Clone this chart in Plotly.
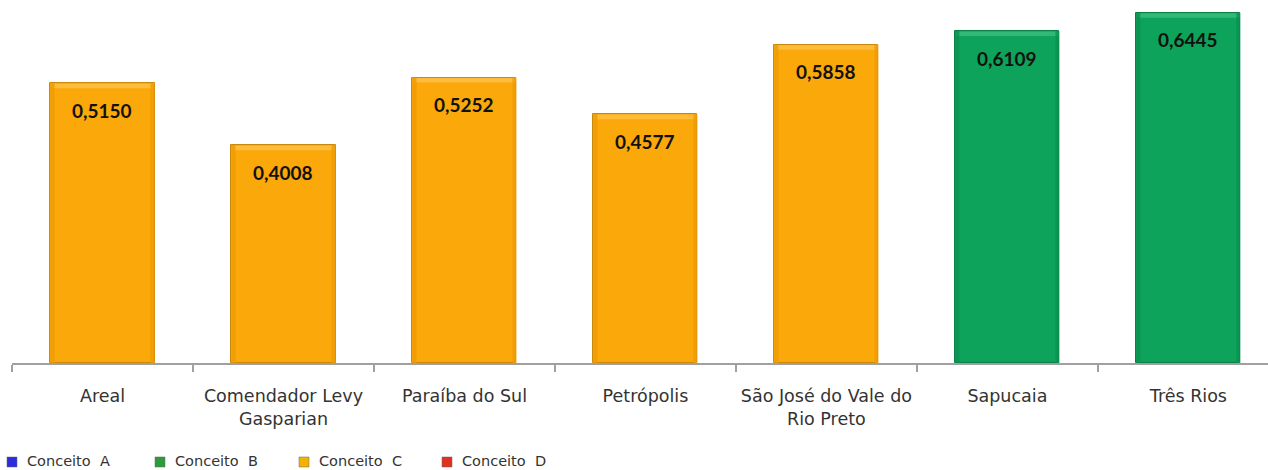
import plotly.graph_objects as go

# Municipal index by municipality, coloured by concept band
municipios = ["Areal", "Comendador Levy<br>Gasparian", "Paraíba do Sul", "Petrópolis",
              "São José do Vale do<br>Rio Preto", "Sapucaia", "Três Rios"]
indices = [0.5150, 0.4008, 0.5252, 0.4577, 0.5858, 0.6109, 0.6445]
conceitos = ["C", "C", "C", "C", "C", "B", "B"]

legenda = ["Conceito  A", "Conceito  B", "Conceito  C", "Conceito  D"]
cores_legenda = ["#2B2BE0", "#2E9A3A", "#F2B400", "#E0301E"]

cor_barra = {"B": "#0DA35B", "C": "#FBA80A"}
cor_borda = {"B": "#0A7F46", "C": "#C98A0C"}
cor_topo = {"B": "#33B977", "C": "#FDBC3C"}
cor_lado = {"B": "#0B9150", "C": "#EE9A05"}

LARGURA = 0.575

fig = go.Figure()
fig.add_trace(go.Bar(
    x=municipios,
    y=indices,
    width=LARGURA,
    marker=dict(color=[cor_barra[c] for c in conceitos],
                line=dict(color=[cor_borda[c] for c in conceitos], width=1)),
    hoverinfo="skip",
    showlegend=False,
))

# bevel: light band along the top, slightly darker strips along the sides
for i, (v, c) in enumerate(zip(indices, conceitos)):
    fig.add_shape(type="rect", xref="x", yref="y", ysizemode="pixel", yanchor=v,
                  x0=i - LARGURA / 2 + 0.004, x1=i + LARGURA / 2 - 0.004, y0=-5, y1=-0.5,
                  fillcolor=cor_topo[c], line_width=0, layer="above")
    for lado in (-1, 1):
        fig.add_shape(type="rect", xref="x", yref="y", xsizemode="pixel",
                      xanchor=i + lado * LARGURA / 2,
                      x0=0 if lado < 0 else -4, x1=4 if lado < 0 else 0,
                      y0=0, y1=v, fillcolor=cor_lado[c], line_width=0,
                      opacity=0.8, layer="above")

# value labels near the top of each bar
for i, v in enumerate(indices):
    fig.add_annotation(x=i, y=v, xref="x", yref="y", yshift=-27,
                       text="<b>" + f"{v:.4f}".replace(".", ",") + "</b>",
                       showarrow=False, yanchor="middle",
                       font=dict(family="Lato", size=19, color="#111111"))

# legend row along the bottom edge (positions in pixels from the left edge)
leg_x = [7, 155, 299, 442]
for x0, nome, cor in zip(leg_x, legenda, cores_legenda):
    fig.add_shape(type="rect", xref="paper", yref="paper",
                  x0=(x0 - 12) / 1256, x1=(x0 - 2) / 1256,
                  y0=(363 - 467) / 363, y1=(363 - 457) / 363,
                  fillcolor=cor, line=dict(color="#666666", width=0.5))
    fig.add_annotation(x=(x0 + 6) / 1256, y=(363 - 461) / 363, xref="paper", yref="paper",
                       xanchor="left", yanchor="middle", showarrow=False,
                       text=nome, font=dict(family="DejaVu Sans", size=14.5, color="#333333"))

fig.update_layout(
    width=1268, height=470,
    margin=dict(l=12, r=0, t=0, b=107),
    paper_bgcolor="white", plot_bgcolor="white",
    bargap=0,
    xaxis=dict(type="category", range=[-0.5, 6.44], automargin=False, tickangle=0,
               showgrid=False, zeroline=False,
               showline=True, linecolor="#A0A0A0", linewidth=2,
               ticks="outside", tickson="boundaries", ticklen=7,
               tickcolor="#A0A0A0", tickwidth=2, ticklabelstandoff=16,
               tickfont=dict(family="DejaVu Sans", size=17.5, color="#333333")),
    yaxis=dict(range=[0, 0.668], visible=False, fixedrange=True),
)

fig.write_html("out.html")
